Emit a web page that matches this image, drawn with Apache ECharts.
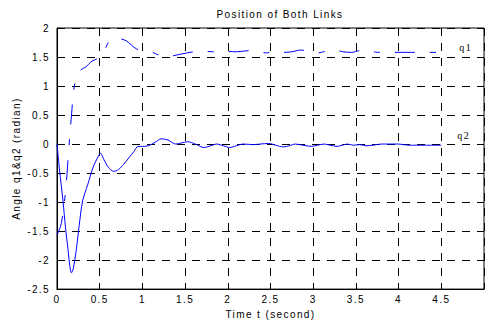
<!DOCTYPE html>
<html>
<head>
<meta charset="utf-8">
<script src="https://cdn.jsdelivr.net/npm/echarts@6/dist/echarts.min.js"></script>
<style>
html,body{margin:0;padding:0;background:#fff;}
#c{width:487px;height:324px;letter-spacing:1.4px;}
</style>
</head>
<body>
<div id="c"></div>
<script>
var titleText = 'Position of Both Links';
var xName = 'Time t (second)';
var yName = 'Angle q1&q2 (radian)';
var xTicks = [0, 0.5, 1, 1.5, 2, 2.5, 3, 3.5, 4, 4.5];
var yTicks = [-2.5, -2, -1.5, -1, -0.5, 0, 0.5, 1, 1.5, 2];

var q1T = [0, 0.05, 0.1, 0.13, 0.15, 0.17, 0.19, 0.22, 0.26, 0.3, 0.34, 0.4, 0.47, 0.53, 0.6, 0.66, 0.72, 0.81, 0.93, 1.03, 1.12, 1.2, 1.3, 1.45, 1.6, 1.7, 1.85, 1.95, 2.1, 2.25, 2.35, 2.45, 2.55, 2.65, 2.75, 2.85, 2.95, 3.05, 3.15, 3.25, 3.35, 3.45, 3.55, 3.65, 3.75, 3.85, 3.95, 4.1, 4.3, 4.5];
var q1V = [-1.57, -1.37, -0.82, -0.25, 0.15, 0.5, 0.86, 1.12, 1.25, 1.3, 1.33, 1.42, 1.47, 1.52, 1.75, 1.83, 1.82, 1.78, 1.64, 1.62, 1.58, 1.53, 1.51, 1.55, 1.59, 1.6, 1.59, 1.6, 1.59, 1.61, 1.6, 1.57, 1.6, 1.58, 1.59, 1.62, 1.6, 1.57, 1.6, 1.62, 1.59, 1.58, 1.61, 1.61, 1.58, 1.59, 1.58, 1.58, 1.58, 1.58];

var q2T = [0, 0.03, 0.07, 0.1, 0.13, 0.15, 0.168, 0.19, 0.225, 0.26, 0.3, 0.36, 0.42, 0.47, 0.51, 0.55, 0.6, 0.665, 0.72, 0.78, 0.84, 0.9, 0.95, 1.0, 1.07, 1.15, 1.22, 1.3, 1.39, 1.46, 1.53, 1.62, 1.72, 1.8, 1.87, 1.95, 2.02, 2.1, 2.18, 2.3, 2.38, 2.48, 2.56, 2.65, 2.72, 2.79, 2.88, 2.98, 3.05, 3.13, 3.2, 3.28, 3.34, 3.4, 3.47, 3.55, 3.62, 3.7, 3.8, 3.9, 4.0, 4.12, 4.3, 4.5];
var q2V = [0, -0.45, -0.98, -1.45, -1.83, -2.1, -2.22, -2.15, -1.83, -1.4, -0.98, -0.7, -0.41, -0.25, -0.16, -0.27, -0.4, -0.47, -0.44, -0.35, -0.24, -0.13, -0.04, -0.04, -0.03, 0.03, 0.09, 0.07, 0.0, 0.02, 0.04, 0.0, -0.06, -0.03, 0.0, -0.03, -0.06, -0.03, 0.0, -0.01, 0.0, 0.01, -0.02, -0.05, -0.03, 0.0, -0.02, -0.04, -0.02, 0.0, -0.02, -0.04, -0.02, 0.0, -0.02, -0.01, -0.03, -0.02, 0.0, 0.0, 0.0, -0.02, -0.02, -0.02];

function pairs(t, v) { return t.map(function (x, i) { return [x, v[i]]; }); }

var FONT = '"Liberation Sans", Arial, sans-serif';
var chart = echarts.init(document.getElementById('c'), null, { renderer: 'svg' });
chart.setOption({
  animation: false,
  backgroundColor: '#fff',
  title: {
    text: titleText, left: 275, top: 4, textAlign: 'center',
    textStyle: { fontFamily: FONT, fontSize: 10, fontWeight: 'normal', color: '#000' }
  },
  grid: { left: 57, right: -6, top: 28, bottom: 31, show: true, borderColor: '#000', borderWidth: 1 },
  xAxis: {
    type: 'value', min: 0, max: 5, interval: 0.5,
    name: xName, nameLocation: 'middle', nameGap: 17,
    nameTextStyle: { fontFamily: FONT, fontSize: 10, color: '#000' },
    axisLine: { show: true, onZero: false, lineStyle: { color: '#000', width: 1 } },
    axisTick: { show: true, inside: true, length: 4, lineStyle: { color: '#000' } },
    axisLabel: {
      fontFamily: FONT, fontSize: 10, color: '#000', margin: 5,
      formatter: function (v) { return xTicks.indexOf(v) >= 0 ? String(v) : ''; }
    },
    splitLine: { show: true, lineStyle: { color: '#000', type: [8, 7], width: 1 } }
  },
  yAxis: {
    type: 'value', min: -2.5, max: 2, interval: 0.5,
    name: yName, nameLocation: 'middle', nameGap: 36, nameRotate: 90,
    nameTextStyle: { fontFamily: FONT, fontSize: 10, color: '#000' },
    axisLine: { show: true, onZero: false, lineStyle: { color: '#000', width: 1 } },
    axisTick: { show: true, inside: true, length: 4, lineStyle: { color: '#000' } },
    axisLabel: {
      fontFamily: FONT, fontSize: 10, color: '#000', margin: 7,
      formatter: function (v) { return yTicks.indexOf(v) >= 0 ? String(v) : ''; }
    },
    splitLine: { show: true, lineStyle: { color: '#000', type: [8, 7], width: 1 } }
  },
  series: [
    {
      name: 'q1', type: 'line', data: pairs(q1T, q1V), showSymbol: false, smooth: 0.3,
      lineStyle: { color: '#0000ff', width: 1, type: [20, 15, 6, 15] },
      endLabel: { show: true, formatter: 'q1', fontFamily: '"Liberation Serif", "Times New Roman", serif', fontSize: 10, color: '#000', offset: [10, -5] },
      z: 3
    },
    {
      name: 'q2', type: 'line', data: pairs(q2T, q2V), showSymbol: false, smooth: 0.3,
      lineStyle: { color: '#0000ff', width: 1, type: 'solid' },
      endLabel: { show: true, formatter: 'q2', fontFamily: '"Liberation Serif", "Times New Roman", serif', fontSize: 10, color: '#000', offset: [8, -10] },
      z: 3
    }
  ]
});
</script>
</body>
</html>
